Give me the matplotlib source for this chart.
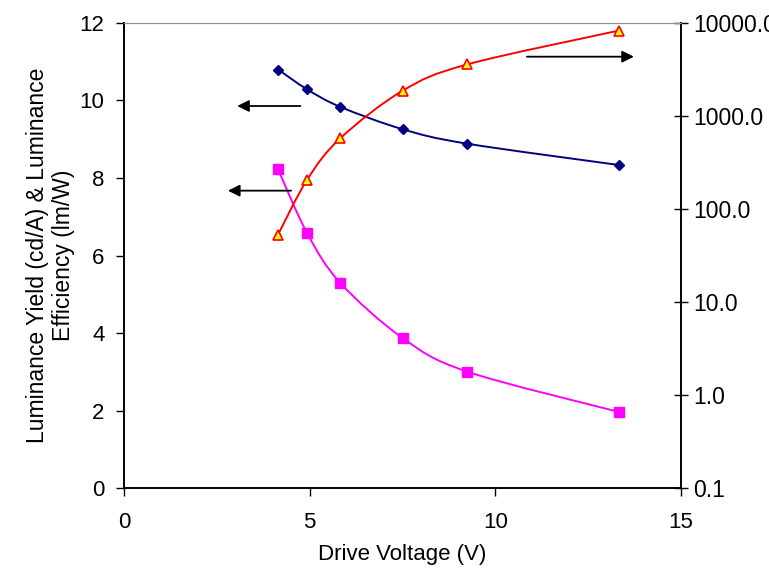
import numpy as np
import matplotlib
matplotlib.use("Agg")
import matplotlib.pyplot as plt
from matplotlib.path import Path
from matplotlib.patches import PathPatch

plt.rcParams['font.family'] = ['Liberation Sans', 'DejaVu Sans']

# Drive voltage (V)
voltage = [4.15, 4.93, 5.82, 7.51, 9.24, 13.33]
# Luminance yield (cd/A) - left axis
lum_yield = [10.79, 10.28, 9.83, 9.25, 8.88, 8.33]
# Luminance efficiency (lm/W) - left axis
lum_eff = [8.22, 6.58, 5.30, 3.87, 3.01, 1.97]
# Luminance (cd/m2) - right log axis
luminance = [53.0, 205.0, 570.0, 1860.0, 3550.0, 8200.0]

x_ticks = [0, 5, 10, 15]
left_ticks = [0, 2, 4, 6, 8, 10, 12]
right_ticks = [0.1, 1, 10, 100, 1000, 10000]
right_labels = ["0.1", "1.0", "10.0", "100.0", "1000.0", "10000.0"]


def smooth_path(xs, ys, log_y=False):
    """Cubic Bezier smoothing through the points (Catmull-Rom style)."""
    x = np.asarray(xs, float)
    y = np.log10(ys) if log_y else np.asarray(ys, float)
    pts = np.column_stack([x, y])
    n = len(pts)
    verts = [pts[0]]
    codes = [Path.MOVETO]
    for i in range(n - 1):
        p0 = pts[max(i - 1, 0)]
        p1 = pts[i]
        p2 = pts[i + 1]
        p3 = pts[min(i + 2, n - 1)]
        c1 = p1 + (p2 - p0) / 6.0
        c2 = p2 - (p3 - p1) / 6.0
        verts += [c1, c2, p2]
        codes += [Path.CURVE4] * 3
    verts = np.array(verts)
    if log_y:
        verts[:, 1] = 10 ** verts[:, 1]
    return Path(verts, codes)


fig = plt.figure(figsize=(7.69, 5.73), dpi=100)
ax = fig.add_axes([0.1612, 0.1475, 0.7244, 0.8132])
ax2 = ax.twinx()

ax.set_xlim(0, 15)
ax.set_ylim(0, 12)
ax2.set_yscale('log')
ax2.set_ylim(0.1, 10000)

navy = '#000080'
magenta = '#FF00FF'
red = '#FF0000'

# Smoothed lines
ax.add_patch(PathPatch(smooth_path(voltage, lum_yield), fill=False,
                       edgecolor=navy, lw=1.4, zorder=2))
ax.add_patch(PathPatch(smooth_path(voltage, lum_eff), fill=False,
                       edgecolor=magenta, lw=1.4, zorder=2))
ax2.add_patch(PathPatch(smooth_path(voltage, luminance, log_y=True), fill=False,
                        edgecolor=red, lw=1.4, zorder=2))

# Markers
ax.plot(voltage, lum_yield, linestyle='none', marker='D', ms=5.5,
        color=navy, zorder=3)
ax.plot(voltage, lum_eff, linestyle='none', marker='s', ms=6.5,
        color=magenta, zorder=3)
ax2.plot(voltage, luminance, linestyle='none', marker='^', ms=7,
         markerfacecolor='#FFFF00', markeredgecolor=red, mew=1.2, zorder=3)

# Axis-indicator arrows
arrow_kw = dict(arrowstyle='-|>,head_length=0.7,head_width=0.35',
                color='black', lw=1.3, shrinkA=0, shrinkB=0)
ax.annotate('', xy=(3.05, 9.85), xytext=(4.75, 9.85), arrowprops=arrow_kw)
ax.annotate('', xy=(2.8, 7.67), xytext=(4.5, 7.67), arrowprops=arrow_kw)
ax.annotate('', xy=(13.73, 11.12), xytext=(10.85, 11.12), arrowprops=arrow_kw)

# Ticks and labels
ax.set_xticks(x_ticks)
ax.set_yticks(left_ticks)
ax2.set_yticks(right_ticks)
ax2.set_yticklabels(right_labels)
ax2.yaxis.set_minor_locator(matplotlib.ticker.NullLocator())

ax.tick_params(axis='both', direction='out', length=6, width=1,
               labelsize=16, colors='black')
ax.tick_params(axis='x', pad=11)
ax.tick_params(axis='y', pad=8)
ax2.tick_params(axis='y', direction='inout', length=10, width=1,
                labelsize=16.5, pad=4)

for a in (ax, ax2):
    a.spines['top'].set_color('#909090')
    a.spines['top'].set_linewidth(0.8)
    a.spines['left'].set_linewidth(1.2)
    a.spines['bottom'].set_linewidth(1.2)
    a.spines['right'].set_linewidth(1.2)

ax.set_xlabel('Drive Voltage (V)', fontsize=16, labelpad=8)
ax.set_ylabel('Luminance Yield (cd/A) & Luminance\nEfficiency (lm/W)',
              fontsize=16.5, labelpad=3, linespacing=1.2)

fig.savefig('out.png', dpi=100)
